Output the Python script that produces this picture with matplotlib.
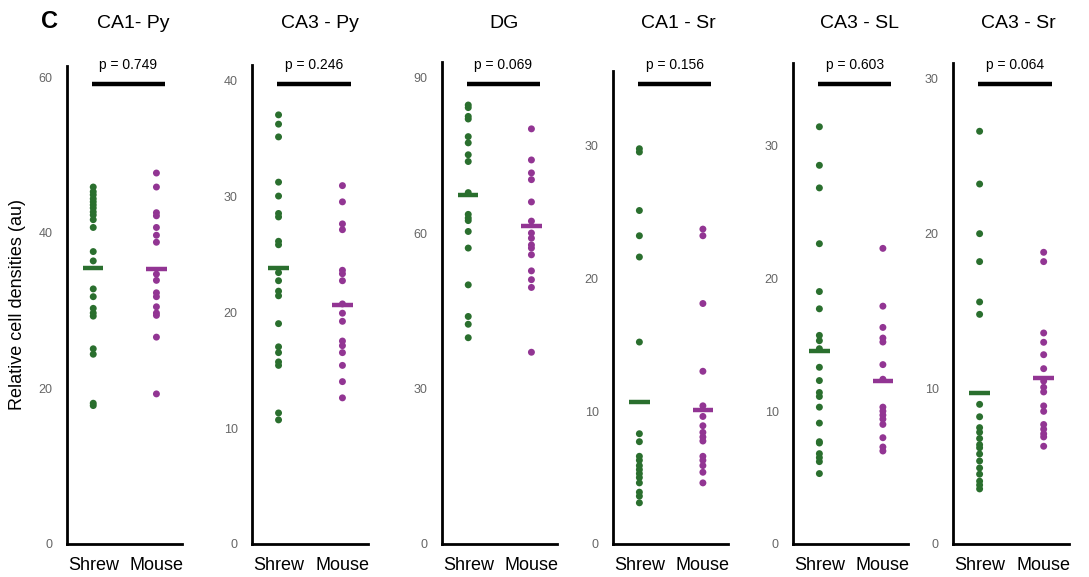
import matplotlib
matplotlib.use("Agg")
import matplotlib.pyplot as plt
from matplotlib.transforms import blended_transform_factory

plt.rcParams['font.family'] = ['Liberation Sans', 'DejaVu Sans']

titles = ["CA1- Py", "CA3 - Py", "DG", "CA1 - Sr", "CA3 - SL", "CA3 - Sr"]
p_values = ["p = 0.749", "p = 0.246", "p = 0.069", "p = 0.156", "p = 0.603", "p = 0.064"]
groups = ["Shrew", "Mouse"]

ca1_py_shrew = [45.9, 45.3, 44.9, 44.4, 44.0, 43.6, 43.2, 42.7, 42.3, 41.7, 40.7, 37.6, 36.4,
                32.8, 31.8, 30.3, 29.7, 29.3, 25.1, 24.4, 18.1, 17.8]
ca1_py_mouse = [47.7, 45.9, 42.6, 42.2, 40.7, 39.7, 38.8, 34.7, 33.9, 32.3, 31.8, 30.5, 29.7,
                29.4, 26.6, 19.3]
ca3_py_shrew = [37.0, 36.2, 35.1, 31.2, 30.0, 28.5, 28.2, 26.1, 25.8, 23.4, 22.7, 21.8, 21.4,
                19.0, 17.0, 16.5, 15.7, 15.4, 11.3, 10.7]
ca3_py_mouse = [30.9, 29.5, 27.6, 27.1, 23.6, 23.3, 22.7, 20.7, 19.9, 19.2, 17.5, 17.1, 16.5,
                15.4, 14.0, 12.6]
dg_shrew = [84.7, 84.2, 82.5, 82.0, 78.6, 77.4, 75.1, 73.8, 67.8, 63.6, 62.9, 62.4, 60.3, 57.1,
            50.0, 43.9, 42.4, 39.8]
dg_mouse = [80.1, 74.1, 71.6, 70.3, 66.0, 62.3, 60.0, 59.0, 57.7, 57.1, 55.8, 52.7, 51.0, 49.5, 37.0]
ca1_sr_shrew = [29.75, 29.5, 25.1, 23.2, 21.6, 15.2, 8.3, 7.7, 6.6, 6.3, 5.9, 5.6, 5.3, 5.0, 4.6,
                3.9, 3.6, 3.1]
ca1_sr_mouse = [23.7, 23.2, 18.1, 13.0, 10.4, 9.6, 8.9, 8.4, 8.05, 7.75, 6.6, 6.3, 5.9, 5.4, 4.6]
ca3_sl_shrew = [31.4, 28.5, 26.8, 22.6, 19.0, 17.7, 15.7, 15.3, 14.7, 13.3, 12.3, 11.4, 11.1, 10.3,
                9.1, 7.7, 7.6, 6.8, 6.5, 6.2, 5.3]
ca3_sl_mouse = [22.25, 17.9, 16.3, 15.5, 15.2, 13.5, 12.4, 10.3, 10.0, 9.7, 9.4, 9.0, 8.0, 7.3, 7.0]
ca3_sr_shrew = [26.6, 23.2, 20.0, 18.2, 15.6, 14.8, 9.0, 8.2, 7.5, 7.2, 6.8, 6.4, 6.2, 5.8, 5.35,
                4.9, 4.5, 4.05, 3.8, 3.55]
ca3_sr_mouse = [18.8, 18.2, 13.6, 13.0, 12.2, 11.3, 10.5, 10.1, 9.8, 8.9, 8.55, 7.7, 7.4, 7.1, 6.9, 6.3]

shrew_means = [35.5, 23.8, 67.3, 10.7, 14.5, 9.7]
mouse_means = [35.3, 20.6, 61.3, 10.1, 12.3, 10.7]

yticks = [[0, 20, 40, 60], [0, 10, 20, 30, 40], [0, 30, 60, 90],
          [0, 10, 20, 30], [0, 10, 20, 30], [0, 10, 20, 30]]
ytops = [61.5, 41.3, 93.0, 35.6, 36.2, 31.0]

shrew_data = [ca1_py_shrew, ca3_py_shrew, dg_shrew, ca1_sr_shrew, ca3_sl_shrew, ca3_sr_shrew]
mouse_data = [ca1_py_mouse, ca3_py_mouse, dg_mouse, ca1_sr_mouse, ca3_sl_mouse, ca3_sr_mouse]

GREEN = "#2a6f2e"
PURPLE = "#923593"

W, H = 1089, 577
fig = plt.figure(figsize=(W / 100, H / 100), dpi=100)

lefts = [66.7, 251.7, 441.7, 612.7, 792.7, 952.7]
rights = [181.7, 368.0, 556.7, 728.3, 908.3, 1069.3]
tops = [65.7, 65.0, 62.0, 71.0, 63.0, 63.0]
bottom = 544.0
title_off = [0.58, 0.59, 0.54, 0.57, 0.58, 0.56]

for i in range(6):
    l, r, t = lefts[i], rights[i], tops[i]
    ax = fig.add_axes([l / W, (H - bottom) / H, (r - l) / W, (bottom - t) / H])
    ax.set_xlim(-0.42, 1.40)
    ax.set_ylim(0, ytops[i])
    ax.scatter([0] * len(shrew_data[i]), shrew_data[i], s=25, color=GREEN, edgecolors='none', zorder=3)
    ax.scatter([1] * len(mouse_data[i]), mouse_data[i], s=25, color=PURPLE, edgecolors='none', zorder=3)
    ax.plot([-0.16, 0.16], [shrew_means[i]] * 2, color=GREEN, lw=3.2, solid_capstyle='butt', zorder=4)
    ax.plot([0.84, 1.16], [mouse_means[i]] * 2, color=PURPLE, lw=3.2, solid_capstyle='butt', zorder=4)
    for s in ['top', 'right']:
        ax.spines[s].set_visible(False)
    for s in ['left', 'bottom']:
        ax.spines[s].set_linewidth(2.0)
        ax.spines[s].set_color('black')
    ax.set_yticks(yticks[i])
    ax.set_yticklabels([str(v) for v in yticks[i]], color='#666666', fontsize=9,
                       family=['Liberation Sans Narrow', 'Liberation Sans'])
    ax.set_xticks([0, 1])
    ax.set_xticklabels(groups, fontsize=13)
    ax.tick_params(axis='y', length=0, pad=10)
    ax.tick_params(axis='x', length=0, pad=9)
    ax.patch.set_alpha(0)
    tr = blended_transform_factory(ax.transData, fig.transFigure)
    ax.plot([-0.02, 1.13], [(H - 83.7) / H] * 2, color='black', lw=3.2, transform=tr,
            clip_on=False, solid_capstyle='butt')
    ax.text(0.555, (H - 65) / H, p_values[i], transform=tr, ha='center', va='center', fontsize=10)
    fig.text((l + (r - l) * title_off[i]) / W, (H - 23) / H, titles[i], ha='center', va='center',
             fontsize=14)

fig.text(49 / W, (H - 21) / H, "C", fontsize=17, fontweight='bold', ha='center', va='center')
fig.text(18 / W, (H - 305) / H, "Relative cell densities (au)", rotation=90, fontsize=13,
         ha='center', va='center')

fig.savefig("out.png", dpi=100)
